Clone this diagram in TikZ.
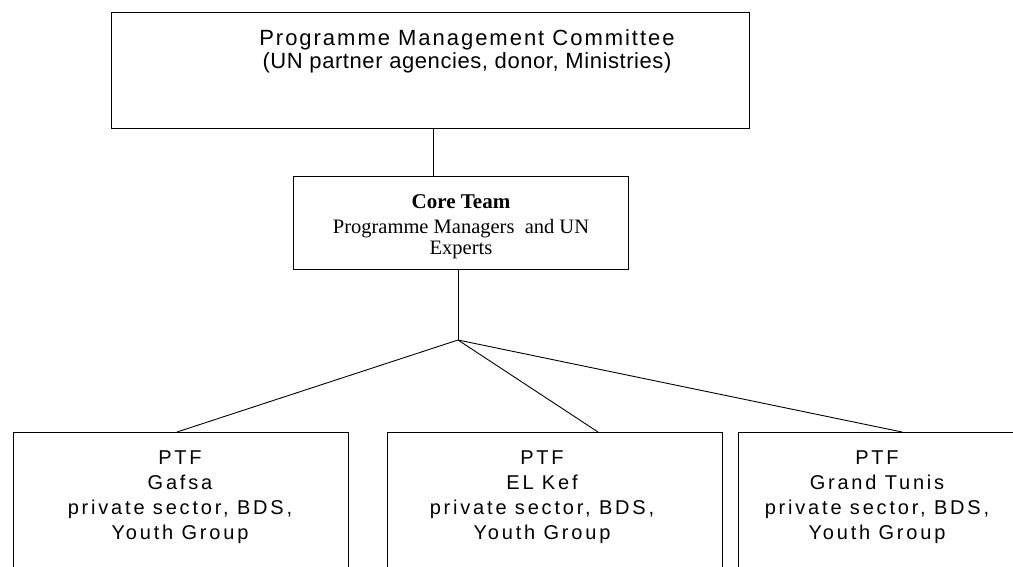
\documentclass[tikz,border=0pt]{standalone}
\usepackage{fontspec}
\setmainfont{Liberation Serif}
\newfontfamily\pmcfont{Liberation Sans}
\newfontfamily\ptffont[LetterSpace=14]{Liberation Sans}
\begin{document}
\begin{tikzpicture}[x=1pt,y=-1pt,
    box/.style={draw,line width=0.9pt,inner sep=0pt,anchor=north west},
    link/.style={line width=0.9pt},
    pmctext/.style={font=\pmcfont\fontsize{22}{23}\selectfont,align=center,inner sep=0pt,anchor=north},
    coretext/.style={font=\fontsize{20.5}{21}\selectfont,align=center,inner sep=0pt,anchor=north},
    ptftext/.style={font=\ptffont\fontsize{20}{25}\selectfont,align=center,inner sep=0pt,anchor=north}]
        \useasboundingbox (0,0) rectangle (1013,567);
        \clip (0,0) rectangle (1013,567);

        % Draw the committee and the core team
        \node[box,minimum width=638pt,minimum height=116pt] (pmc) at (111,12) {};
        \node[pmctext] (pmc-text) at (467,29) {{\addfontfeature{LetterSpace=9}Programme Management Committee}\\{\addfontfeature{LetterSpace=2.6}(UN partner agencies, donor, Ministries)}};

        \node[box,minimum width=335pt,minimum height=93pt] (core) at (293,176) {};
        \node[coretext] (core-text) at (461,194) {{\fontsize{21}{21}\selectfont\bfseries Core Team}\\[4pt]Programme Managers\ \ and UN\\Experts};

        % Draw the PTF boxes
        \foreach \name/\x/\w/\cx/\place in {gafsa/13/335/180/Gafsa, kef/387/335/542/EL Kef, tunis/738/280/877/Grand Tunis} {
            \node[box,minimum width=\w pt,minimum height=170pt] (\name) at (\x,432) {};
            \node[ptftext] (\name-text) at (\cx,451) {PTF\\\place\\private sector, BDS,\\Youth Group};
        }

        % Draw the lines
        \coordinate (top) at (433,0);
        \coordinate (hub) at (458,340);
        \draw[link] (pmc.south -| top) -- (core.north -| top);
        \draw[link] (core.south -| hub) -- (hub);
        \foreach \name/\ex in {gafsa/177, kef/598, tunis/902}
            \draw[link] (hub) -- (\name.north -| \ex,0);
    \end{tikzpicture}
\end{document}
